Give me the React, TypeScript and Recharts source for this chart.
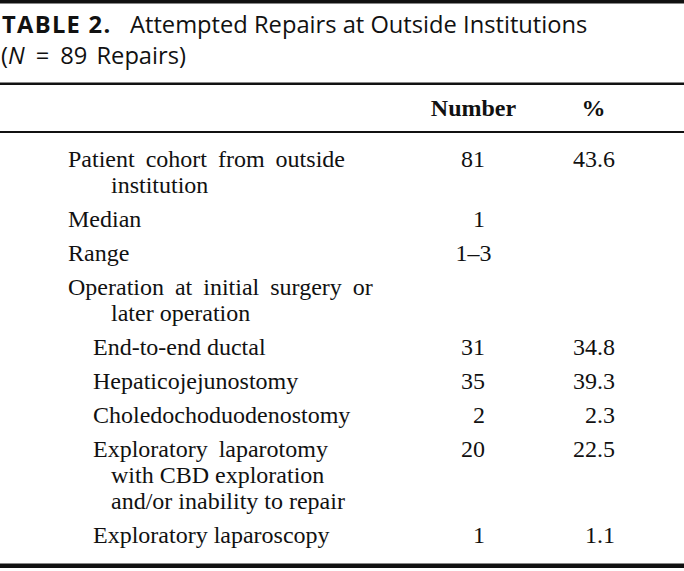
import React from 'react';
import { ScatterChart, Scatter, XAxis, YAxis } from 'recharts';

// Table content
const rowLabels: string[][] = [
  ['Patient cohort from outside', 'institution'],
  ['Median'],
  ['Range'],
  ['Operation at initial surgery or', 'later operation'],
  ['End-to-end ductal'],
  ['Hepaticojejunostomy'],
  ['Choledochoduodenostomy'],
  ['Exploratory laparotomy', 'with CBD exploration', 'and/or inability to repair'],
  ['Exploratory laparoscopy'],
];
const rowLevels = [0, 0, 0, 0, 1, 1, 1, 1, 1];
const numbers = ['81', '1', '1–3', '', '31', '35', '2', '20', '1'];
const percents = ['43.6', '', '', '', '34.8', '39.3', '2.3', '22.5', '1.1'];
const columnHeaders = ['Number', '%'];

const W = 684;
const H = 571;
const BODY_TOP = 133;

// layout (px)
const LINE_STEP = 26;
const ROW_GAP = 34;
const INDENT = [68, 93];
const WRAP_INDENT = 111;
const NUMBER_RIGHT = 485;
const PCT_RIGHT = 615;
const HEADER_CENTER = [473.5, 593.5];

const serif = '"Liberation Serif", "Times New Roman", serif';
const sans = '"Open Sans", "Noto Sans", sans-serif';
const ink = '#111';

type Cell = { x: number; y: number; text: string; anchor: string; spacing: number };

const labelCells: Cell[] = [];
const numberCells: Cell[] = [];
const pctCells: Cell[] = [];

let cursor = ROW_GAP;
rowLabels.forEach((lines, i) => {
  lines.forEach((text, j) => {
    labelCells.push({
      x: j === 0 ? INDENT[rowLevels[i]] : WRAP_INDENT,
      y: cursor + j * LINE_STEP,
      text,
      anchor: 'start',
      // wrapped first lines are justified in the original
      spacing: j === 0 && lines.length > 1 ? 5 : 0,
    });
  });
  const n = numbers[i];
  if (n) {
    // ranges are centred, counts are right aligned
    const isRange = n.includes('–');
    numberCells.push({
      x: isRange ? HEADER_CENTER[0] : NUMBER_RIGHT,
      y: cursor,
      text: n,
      anchor: isRange ? 'middle' : 'end',
      spacing: 0,
    });
  }
  if (percents[i]) pctCells.push({ x: PCT_RIGHT, y: cursor, text: percents[i], anchor: 'end', spacing: 0 });
  cursor += (lines.length - 1) * LINE_STEP + ROW_GAP;
});

const TextCell = (props: any) => (
  <text
    x={props.cx}
    y={props.cy}
    textAnchor={props.payload.anchor}
    fontFamily={serif}
    fontSize={24}
    fill={ink}
    style={{ wordSpacing: props.payload.spacing }}
  >
    {props.payload.text}
  </text>
);

export default function App() {
  return (
    <div style={{ position: 'absolute', left: 0, top: 0, width: W, height: H, background: '#fff' }}>
      <ScatterChart
        width={W}
        height={H}
        margin={{ top: BODY_TOP, right: 0, bottom: 0, left: 0 }}
      >
        <XAxis type="number" dataKey="x" domain={[0, W]} hide />
        <YAxis type="number" dataKey="y" domain={[0, H - BODY_TOP]} reversed hide />

        {/* rules */}
        <rect x={0} y={0} width={W} height={3.5} fill={ink} />
        <rect x={0} y={82.5} width={W} height={2.5} fill={ink} />
        <rect x={0} y={131} width={W} height={2} fill={ink} />
        <rect x={0} y={563.5} width={W} height={4.5} fill={ink} />

        {/* title */}
        <text
          x={2}
          y={33}
          fontFamily={sans}
          fontSize={23.7}
          fontWeight="bold"
          fill={ink}
          style={{ letterSpacing: 1.3 }}
        >
          TABLE 2.
        </text>
        <text x={130} y={33} fontFamily={sans} fontSize={23.7} fill={ink}>
          Attempted Repairs at Outside Institutions
        </text>
        <text x={1} y={64} fontFamily={sans} fontSize={23.7} fill={ink} style={{ wordSpacing: 3 }}>
          (<tspan fontStyle="italic">N</tspan>
          <tspan dx={11}>=</tspan>
          <tspan dx={11}>89 Repairs)</tspan>
        </text>

        {/* column headers */}
        {columnHeaders.map((h, i) => (
          <text
            key={h}
            x={HEADER_CENTER[i]}
            y={116}
            textAnchor="middle"
            fontFamily={serif}
            fontSize={24}
            fontWeight="bold"
            fill={ink}
          >
            {h}
          </text>
        ))}

        <Scatter data={labelCells} shape={<TextCell />} isAnimationActive={false} />
        <Scatter data={numberCells} shape={<TextCell />} isAnimationActive={false} />
        <Scatter data={pctCells} shape={<TextCell />} isAnimationActive={false} />
      </ScatterChart>
    </div>
  );
}
